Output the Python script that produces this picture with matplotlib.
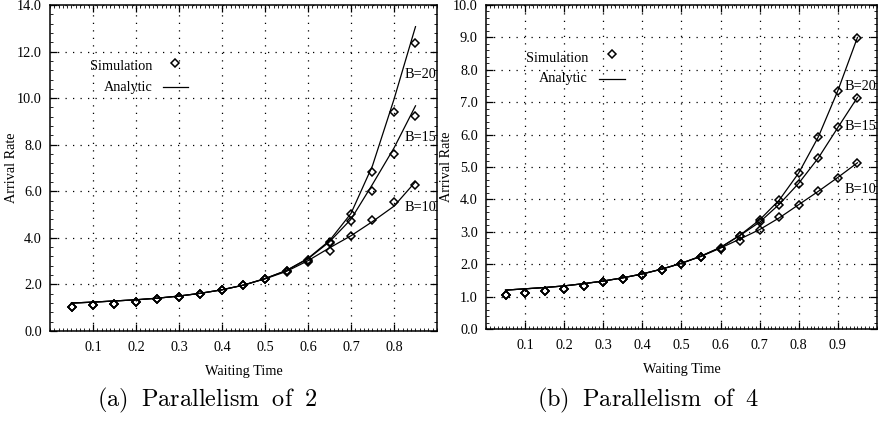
import numpy as np
import matplotlib
matplotlib.use("Agg")
import matplotlib.pyplot as plt
from matplotlib.ticker import MultipleLocator, FixedLocator, FormatStrFormatter

plt.rcParams['font.family'] = ['Liberation Serif', 'DejaVu Serif']
plt.rcParams['mathtext.fontset'] = 'cm'

# ---------------- data: panel (a) parallelism of 2 ----------------
x_a = [0.05, 0.10, 0.15, 0.20, 0.25, 0.30, 0.35, 0.40, 0.45, 0.50,
       0.55, 0.60, 0.65, 0.70, 0.75, 0.80, 0.85]
sim_a_b10 = [1.04, 1.10, 1.17, 1.26, 1.36, 1.46, 1.59, 1.76, 1.96, 2.23,
             2.54, 2.95, 3.45, 4.09, 4.78, 5.52, 6.28]
sim_a_b15 = [1.04, 1.10, 1.17, 1.26, 1.36, 1.46, 1.59, 1.76, 1.96, 2.23,
             2.56, 3.02, 3.78, 4.72, 6.00, 7.59, 9.24]
sim_a_b20 = [1.04, 1.10, 1.17, 1.26, 1.36, 1.46, 1.59, 1.76, 1.96, 2.23,
             2.56, 3.04, 3.82, 5.03, 6.81, 9.41, 12.36]
ana_a_b10 = [1.20, 1.24, 1.29, 1.34, 1.41, 1.50, 1.62, 1.77, 1.97, 2.24,
             2.56, 3.02, 3.57, 4.09, 4.70, 5.36, 6.41]
ana_a_b15 = [1.20, 1.24, 1.29, 1.34, 1.41, 1.50, 1.62, 1.77, 1.97, 2.25,
             2.60, 3.10, 3.83, 4.80, 6.30, 7.86, 9.67]
ana_a_b20 = [1.20, 1.24, 1.29, 1.34, 1.41, 1.50, 1.62, 1.77, 1.97, 2.25,
             2.60, 3.12, 3.88, 5.05, 7.10, 9.95, 13.07]

# ---------------- data: panel (b) parallelism of 4 ----------------
x_b = [0.05, 0.10, 0.15, 0.20, 0.25, 0.30, 0.35, 0.40, 0.45, 0.50,
       0.55, 0.60, 0.65, 0.70, 0.75, 0.80, 0.85, 0.90, 0.95]
sim_b_b10 = [1.05, 1.11, 1.18, 1.25, 1.33, 1.44, 1.54, 1.68, 1.83, 2.00,
             2.21, 2.46, 2.72, 3.07, 3.45, 3.84, 4.25, 4.67, 5.12]
sim_b_b15 = [1.05, 1.11, 1.18, 1.25, 1.33, 1.44, 1.54, 1.68, 1.83, 2.01,
             2.23, 2.48, 2.87, 3.30, 3.83, 4.49, 5.28, 6.22, 7.13]
sim_b_b20 = [1.05, 1.11, 1.18, 1.25, 1.33, 1.44, 1.54, 1.68, 1.83, 2.01,
             2.23, 2.49, 2.88, 3.36, 3.99, 4.82, 5.93, 7.36, 8.98]
ana_b_b10 = [1.20, 1.24, 1.28, 1.33, 1.40, 1.48, 1.58, 1.70, 1.85, 2.03,
             2.24, 2.50, 2.78, 3.07, 3.43, 3.84, 4.25, 4.68, 5.13]
ana_b_b15 = [1.20, 1.24, 1.28, 1.33, 1.40, 1.48, 1.58, 1.70, 1.85, 2.03,
             2.25, 2.52, 2.89, 3.30, 3.85, 4.50, 5.28, 6.22, 7.15]
ana_b_b20 = [1.20, 1.24, 1.28, 1.33, 1.40, 1.48, 1.58, 1.70, 1.85, 2.03,
             2.25, 2.52, 2.90, 3.37, 3.98, 4.82, 5.93, 7.36, 9.00]

series_labels = ['B=10', 'B=15', 'B=20']
xticks_a = [0.1, 0.2, 0.3, 0.4, 0.5, 0.6, 0.7, 0.8]
xticks_b = [0.1, 0.2, 0.3, 0.4, 0.5, 0.6, 0.7, 0.8, 0.9]
captions = ['(a) Parallelism of 2', '(b) Parallelism of 4']

fig = plt.figure(figsize=(8.79, 4.21), dpi=100)
W, H = 879, 421

def add_axes_px(l, t, r, b):
    return fig.add_axes([l / W, 1 - b / H, (r - l) / W, (b - t) / H])

ax_a = add_axes_px(50, 5, 437, 331)
ax_b = add_axes_px(486, 5, 877, 329)

FS = 10.3

def style(ax, xlim, ylim, ymaj, ymin, xticks, ylab_x):
    ax.set_xlim(*xlim)
    ax.set_ylim(*ylim)
    ax.xaxis.set_major_locator(FixedLocator(xticks))
    ax.xaxis.set_major_formatter(FormatStrFormatter('%.1f'))
    ax.xaxis.set_minor_locator(MultipleLocator(0.01))
    ax.yaxis.set_major_locator(MultipleLocator(ymaj))
    ax.yaxis.set_major_formatter(FormatStrFormatter('%.1f'))
    ax.yaxis.set_minor_locator(MultipleLocator(ymin))
    ax.tick_params(which='both', direction='in', top=True, right=True,
                   labelsize=FS, colors='black')
    ax.tick_params(which='major', length=5, width=0.9)
    ax.tick_params(axis='x', which='major', pad=7)
    ax.tick_params(axis='y', which='major', pad=6)
    ax.tick_params(which='minor', length=2, width=0.6)
    ax.grid(True, which='major', color='black', linestyle=(0, (1, 5)),
            linewidth=0.9)
    for s in ax.spines.values():
        s.set_linewidth(1.1)
        s.set_color('black')
    ax.set_xlabel('Waiting Time', fontsize=FS)
    ax.xaxis.set_label_coords(0.5, -0.105)
    ax.set_ylabel('Arrival Rate', fontsize=FS)
    ax.yaxis.set_label_coords(ylab_x, 0.5)

def draw(ax, x, sims, anas):
    for s, a in zip(sims, anas):
        ax.plot(x, a, color='black', linewidth=0.9, zorder=3)
        ax.plot(x, s, linestyle='none', marker='D', markersize=4.5,
                markerfacecolor='none', markeredgecolor='black',
                markeredgewidth=1.1, zorder=4)

style(ax_a, (0, 0.9), (0, 14), 2.0, 0.4, xticks_a, -0.083)
style(ax_b, (0, 1.0), (0, 10), 1.0, 0.2, xticks_b, -0.084)

draw(ax_a, x_a, [sim_a_b10, sim_a_b15, sim_a_b20], [ana_a_b10, ana_a_b15, ana_a_b20])
draw(ax_b, x_b, [sim_b_b10, sim_b_b15, sim_b_b20], [ana_b_b10, ana_b_b15, ana_b_b20])

# curve labels
for lab, yy in zip(series_labels, [5.3, 8.3, 11.0]):
    ax_a.text(0.8625, yy, lab, fontsize=FS, ha='center', va='center')
for lab, yy in zip(series_labels, [4.3, 6.25, 7.5]):
    ax_b.text(0.957, yy, lab, fontsize=FS, ha='center', va='center')

# legends (gnuplot style)
def legend(ax, tx, ty1, ty2, mx, my, lx0, lx1):
    ax.text(tx, ty1, 'Simulation', transform=ax.transAxes, fontsize=FS,
            ha='right', va='center')
    ax.text(tx, ty2, 'Analytic', transform=ax.transAxes, fontsize=FS,
            ha='right', va='center')
    ax.plot([mx], [my], transform=ax.transAxes, linestyle='none', marker='D',
            markersize=4.5, markerfacecolor='none', markeredgecolor='black',
            markeredgewidth=1.1)
    ax.plot([lx0, lx1], [ty2, ty2], transform=ax.transAxes, color='black',
            linewidth=0.9)

legend(ax_a, 0.264, 0.81, 0.748, 0.323, 0.822, 0.292, 0.357)
legend(ax_b, 0.261, 0.836, 0.772, 0.322, 0.849, 0.289, 0.355)

# captions
for cx, cap in zip([207, 648], captions):
    fig.text(cx / W, 1 - 400 / H, r'$\mathrm{' + cap.replace(' ', r'\ \;') + '}$',
             fontsize=17.5, ha='center', va='center')

fig.savefig('out.png', dpi=100)
